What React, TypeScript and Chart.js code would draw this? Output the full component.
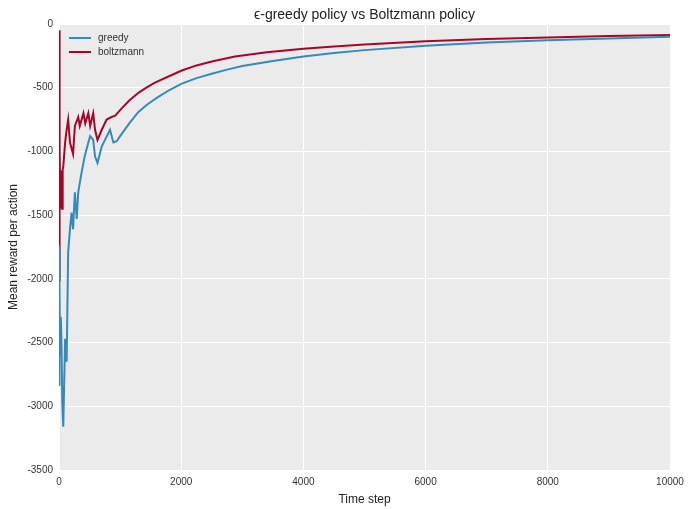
import React, { useEffect, useRef } from "react";
import { Chart, registerables } from "chart.js";
Chart.register(...registerables);

const greedySteps = [0, 5, 10, 20, 30, 40, 55, 70, 100, 125, 150, 180, 205, 230, 260, 290, 315, 370, 420, 480, 510, 560, 590, 630, 700, 835, 890, 945, 1000, 1150, 1300, 1450, 1600, 1800, 2000, 2250, 2500, 2750, 3000, 3500, 4000, 4500, 5000, 6000, 7000, 8000, 9000, 10000];
const greedyValues = [-1740, -2840, -2050, -2600, -2300, -2500, -2990, -3160, -2470, -2650, -1790, -1610, -1480, -1610, -1320, -1530, -1320, -1165, -1040, -930, -880, -910, -1040, -1090, -960, -830, -930, -920, -880, -780, -690, -630, -580, -520, -470, -425, -390, -358, -330, -290, -255, -228, -205, -170, -145, -128, -113, -100];

const boltzSteps = [0, 5, 10, 15, 25, 40, 50, 60, 70, 100, 125, 150, 180, 230, 260, 315, 340, 400, 430, 480, 510, 560, 590, 630, 700, 780, 860, 920, 1030, 1150, 1300, 1430, 1570, 1800, 2010, 2250, 2500, 2880, 3400, 4000, 4500, 5000, 6000, 7000, 8000, 9000, 10000];
const boltzValues = [-50, -2020, -570, -1000, -1450, -1150, -1450, -1140, -1120, -930, -830, -750, -930, -1020, -800, -730, -800, -700, -780, -700, -800, -700, -830, -910, -830, -750, -730, -720, -660, -600, -540, -500, -460, -410, -365, -325, -295, -255, -222, -195, -176, -160, -135, -118, -105, -95, -86];

const FONT = "'Liberation Sans', Arial, sans-serif";

export default function App() {
  const ref = useRef<HTMLCanvasElement>(null);
  useEffect(() => {
    const bg = {
      id: "bg",
      beforeDraw(c: any) {
        const { ctx, chartArea: a } = c;
        ctx.save();
        ctx.fillStyle = "#fff";
        ctx.fillRect(0, 0, c.width, c.height);
        ctx.fillStyle = "#ebebeb";
        ctx.fillRect(a.left, a.top, a.right - a.left, a.bottom - a.top);
        ctx.restore();
      },
      afterDraw(c: any) {
        const { ctx, chartArea: a } = c;
        ctx.save();
        ctx.fillStyle = "#222";
        ctx.font = `14px ${FONT}`;
        ctx.textAlign = "center";
        ctx.textBaseline = "bottom";
        ctx.fillText("ϵ-greedy policy vs Boltzmann policy", (a.left + a.right) / 2, a.top - 2);
        const items = [["greedy", "#348ABD"], ["boltzmann", "#A60628"]];
        ctx.font = `10px ${FONT}`;
        ctx.textAlign = "left";
        ctx.textBaseline = "middle";
        items.forEach(([t, col], i) => {
          const y = a.top + 14 + i * 14;
          ctx.strokeStyle = col;
          ctx.lineWidth = 2;
          ctx.beginPath();
          ctx.moveTo(a.left + 10, y);
          ctx.lineTo(a.left + 32, y);
          ctx.stroke();
          ctx.fillStyle = "#333";
          ctx.fillText(t, a.left + 39, y);
        });
        ctx.restore();
      },
    };
    const chart = new Chart(ref.current!, {
      type: "line",
      data: {
        datasets: [
          { label: "greedy", data: greedySteps.map((x, i) => ({ x, y: greedyValues[i] })), borderColor: "#348ABD", borderWidth: 2, pointRadius: 0, tension: 0 },
          { label: "boltzmann", data: boltzSteps.map((x, i) => ({ x, y: boltzValues[i] })), borderColor: "#A60628", borderWidth: 2, pointRadius: 0, tension: 0 },
        ],
      },
      options: {
        animation: false,
        responsive: false,
        layout: { padding: { top: 24, right: 22, left: 4, bottom: 0 } },
        plugins: { legend: { display: false }, tooltip: { enabled: false } },
        scales: {
          x: {
            type: "linear", min: 0, max: 10000,
            border: { display: false },
            grid: { color: "#fff", lineWidth: 1, drawTicks: false },
            ticks: { stepSize: 2000, color: "#333", font: { family: FONT, size: 10 }, padding: 6, callback: (v: any) => String(v) },
            title: { display: true, text: "Time step", color: "#222", font: { family: FONT, size: 12 }, padding: 2 },
            afterFit(s: any) { s.height = 39; },
          },
          y: {
            min: -3500, max: 0,
            border: { display: false },
            grid: { color: "#fff", lineWidth: 1, drawTicks: false },
            ticks: { stepSize: 500, color: "#333", font: { family: FONT, size: 10 }, padding: 6, callback: (v: any) => String(v) },
            title: { display: true, text: "Mean reward per action", color: "#222", font: { family: FONT, size: 12 }, padding: 2 },
            afterFit(s: any) { s.width = 55; },
          },
        },
      },
      plugins: [bg],
    });
    return () => chart.destroy();
  }, []);
  return (
    <div style={{ position: "fixed", left: 0, top: 0 }}>
      <canvas ref={ref} width={692} height={509} style={{ width: 692, height: 509, display: "block" }} />
    </div>
  );
}
